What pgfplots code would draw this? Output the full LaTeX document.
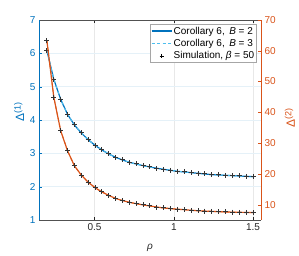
\documentclass[border=0pt]{standalone}
\usepackage{fontspec}
\setmainfont{Liberation Sans}
\usepackage{pgfplots}
\pgfplotsset{compat=1.18}
\definecolor{mblue}{RGB}{0,114,189}
\definecolor{mlblue}{RGB}{77,190,238}
\definecolor{morange}{RGB}{217,83,25}
\definecolor{mlorange}{RGB}{237,140,80}
\definecolor{mgray}{RGB}{38,38,38}
\newcommand{\dlab}[1]{{\fontsize{12}{13}\selectfont Δ\raisebox{0.55ex}{\fontsize{9}{10}\selectfont(#1)}}}
\begin{document}
\begin{tikzpicture}[font=\fontsize{10}{12}\selectfont]
\pgfplotsset{
  base/.style={
    scale only axis, width=222pt, height=200pt,
    xmin=0.15, xmax=1.55,
    tick align=inside, major tick length=2.5pt,
    /pgf/number format/assume math mode=true,
    clip=false,
  }
}
\begin{axis}[base,
  ymin=1, ymax=7, ytick={1,2,3,4,5,6,7},
  xtick={0.5,1,1.5}, xticklabels={0.5,1,1.5},
  axis x line=box, axis y line*=left,
  x axis line style={mgray!80, -},
  y axis line style={mblue, -},
  xtick pos=both, ytick pos=left,
  x tick style={mgray},
  y tick style={mblue},
  x tick label style={text=mgray},
  y tick label style={text=mblue},
  grid=major,
  x grid style={gray!18, line width=0.4pt},
  y grid style={mblue!10, line width=0.4pt},
  xlabel={\textit{ρ}},
  xlabel style={at={(axis description cs:0.5,-0.14)}, anchor=center, text=mgray},
  ylabel={\dlab{1}},
  ylabel style={at={(axis description cs:-0.09,0.54)}, anchor=center, text=mblue},
  legend style={at={(axis description cs:0.9806,0.9785)}, anchor=north east,
    draw=gray!70, fill=white, inner sep=1pt, row sep=1pt,
    nodes={inner sep=1.3pt}},
  legend cell align=left,
]
\path (axis description cs:-0.1757,-0.17) rectangle (axis description cs:1.1712,1.1);
\addplot[color=mblue, line width=1.2pt,
  legend image code/.code={\draw[draw=mblue, line width=1.6pt, solid] (0cm,0cm) -- (0.7cm,0cm);}] coordinates {
(0.2,6.08) (0.2433,5.22) (0.2867,4.62) (0.33,4.17) (0.3733,3.85) (0.4167,3.61) (0.46,3.41) (0.5033,3.24) (0.5467,3.10) (0.59,2.98) (0.6333,2.88) (0.6767,2.80) (0.72,2.73) (0.7633,2.68) (0.8067,2.63) (0.85,2.59) (0.8933,2.55) (0.9367,2.52) (0.98,2.49) (1.0233,2.46) (1.0667,2.44) (1.11,2.42) (1.1533,2.40) (1.1967,2.38) (1.24,2.36) (1.2833,2.35) (1.3267,2.34) (1.37,2.33) (1.4133,2.32) (1.4567,2.31) (1.5,2.30)
};
\addlegendentry{Corollary 6,\, \textit{B} = 2}
\addplot[color=mlblue, dashed, line width=1pt,
  legend image code/.code={\draw[draw=mlblue, line width=1.6pt, dash pattern=on 3pt off 2.5pt] (0cm,0cm) -- (0.7cm,0cm);}] coordinates {
(0.2,6.08) (0.2433,5.22) (0.2867,4.62) (0.33,4.17) (0.3733,3.85) (0.4167,3.61) (0.46,3.41) (0.5033,3.24) (0.5467,3.10) (0.59,2.98) (0.6333,2.88) (0.6767,2.80) (0.72,2.73) (0.7633,2.68) (0.8067,2.63) (0.85,2.59) (0.8933,2.55) (0.9367,2.52) (0.98,2.49) (1.0233,2.46) (1.0667,2.44) (1.11,2.42) (1.1533,2.40) (1.1967,2.38) (1.24,2.36) (1.2833,2.35) (1.3267,2.34) (1.37,2.33) (1.4133,2.32) (1.4567,2.31) (1.5,2.30)
};
\addlegendentry{Corollary 6,\, \textit{B} = 3}
\addplot[only marks, mark=+, mark size=2.5pt, color=black!80, line width=1pt,
  legend image code/.code={\draw[draw=black, line width=0.7pt] (0.35cm,-2pt) -- (0.35cm,2pt) (0.35cm,0pt) ++(-2pt,0pt) -- ++(4pt,0pt);}] coordinates {
(0.2,6.08) (0.2433,5.22) (0.2867,4.62) (0.33,4.17) (0.3733,3.85) (0.4167,3.61) (0.46,3.41) (0.5033,3.24) (0.5467,3.10) (0.59,2.98) (0.6333,2.88) (0.6767,2.80) (0.72,2.73) (0.7633,2.68) (0.8067,2.63) (0.85,2.59) (0.8933,2.55) (0.9367,2.52) (0.98,2.49) (1.0233,2.46) (1.0667,2.44) (1.11,2.42) (1.1533,2.40) (1.1967,2.38) (1.24,2.36) (1.2833,2.35) (1.3267,2.34) (1.37,2.33) (1.4133,2.32) (1.4567,2.31) (1.5,2.30)
};
\addlegendentry{Simulation, \textit{β} = 50}
\end{axis}
\begin{axis}[base,
  ymin=5, ymax=70, ytick={10,20,30,40,50,60,70},
  axis x line=none, axis y line*=right,
  y axis line style={morange, -},
  ytick pos=right,
  y tick style={morange},
  y tick label style={text=morange},
  ylabel={\dlab{2}},
  ylabel style={at={(axis description cs:1.13,0.51)}, anchor=center, text=morange},
]
\addplot[mlorange, dashed, line width=1pt, forget plot] coordinates {
(0.2,63.2) (0.2433,44.9) (0.2867,34.0) (0.33,27.5) (0.3733,22.6) (0.4167,19.6) (0.46,17.3) (0.5033,15.5) (0.5467,14.1) (0.59,13.0) (0.6333,12.0) (0.6767,11.3) (0.72,10.75) (0.7633,10.3) (0.8067,9.9) (0.85,9.55) (0.8933,9.2) (0.9367,8.9) (0.98,8.7) (1.0233,8.5) (1.0667,8.35) (1.11,8.15) (1.1533,8.0) (1.1967,7.9) (1.24,7.8) (1.2833,7.7) (1.3267,7.6) (1.37,7.55) (1.4133,7.5) (1.4567,7.45) (1.5,7.4)
};
\addplot[morange, line width=1.2pt, forget plot] coordinates {
(0.2,63.2) (0.2433,44.9) (0.2867,34.0) (0.33,27.5) (0.3733,22.6) (0.4167,19.6) (0.46,17.3) (0.5033,15.5) (0.5467,14.1) (0.59,13.0) (0.6333,12.0) (0.6767,11.3) (0.72,10.75) (0.7633,10.3) (0.8067,9.9) (0.85,9.55) (0.8933,9.2) (0.9367,8.9) (0.98,8.7) (1.0233,8.5) (1.0667,8.35) (1.11,8.15) (1.1533,8.0) (1.1967,7.9) (1.24,7.8) (1.2833,7.7) (1.3267,7.6) (1.37,7.55) (1.4133,7.5) (1.4567,7.45) (1.5,7.4)
};
\addplot[only marks, mark=+, mark size=2.5pt, black!80, line width=1pt, forget plot] coordinates {
(0.2,63.2) (0.2433,44.9) (0.2867,34.0) (0.33,27.5) (0.3733,22.6) (0.4167,19.6) (0.46,17.3) (0.5033,15.5) (0.5467,14.1) (0.59,13.0) (0.6333,12.0) (0.6767,11.3) (0.72,10.75) (0.7633,10.3) (0.8067,9.9) (0.85,9.55) (0.8933,9.2) (0.9367,8.9) (0.98,8.7) (1.0233,8.5) (1.0667,8.35) (1.11,8.15) (1.1533,8.0) (1.1967,7.9) (1.24,7.8) (1.2833,7.7) (1.3267,7.6) (1.37,7.55) (1.4133,7.5) (1.4567,7.45) (1.5,7.4)
};
\end{axis}
\end{tikzpicture}
\end{document}
